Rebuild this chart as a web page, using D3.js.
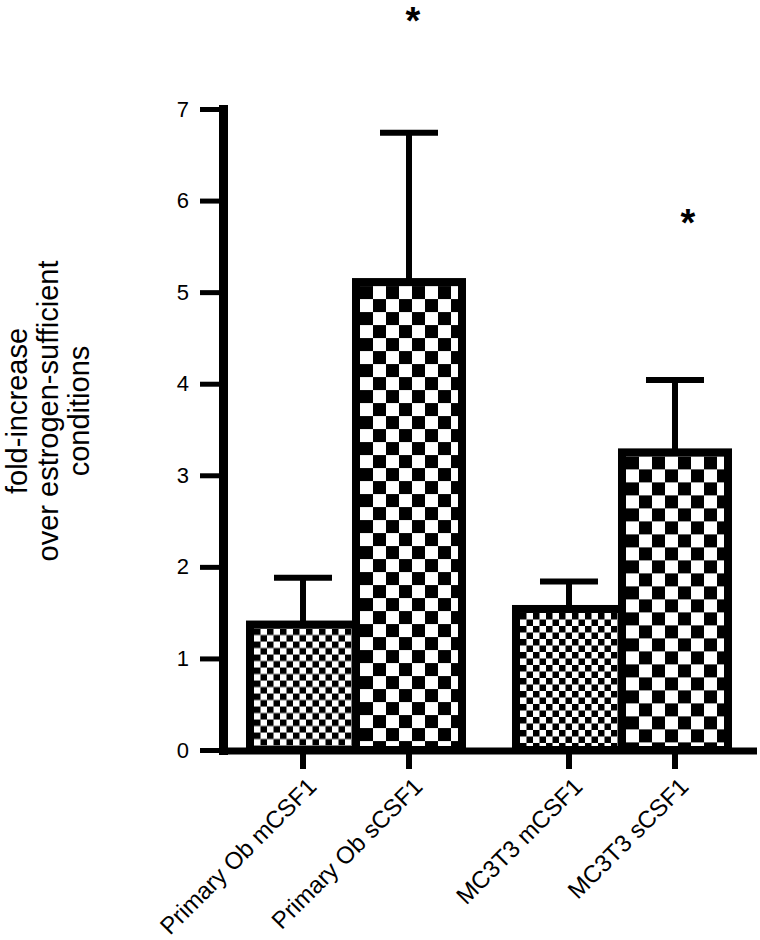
<!DOCTYPE html>
<html>
<head>
<meta charset="utf-8">
<script src="https://cdn.jsdelivr.net/npm/d3@7"></script>
<style>
  html, body { margin: 0; padding: 0; background: #fff; }
  svg { display: block; font-family: "Liberation Sans", Arial, sans-serif; }
</style>
</head>
<body>
<svg id="chart" width="760" height="940"></svg>
<script>
// ---- data ----
const categories = ["Primary Ob mCSF1", "Primary Ob sCSF1", "MC3T3 mCSF1", "MC3T3 sCSF1"];
const groups = ["Primary Ob", "Primary Ob", "MC3T3", "MC3T3"];
const types = ["mCSF1", "sCSF1", "mCSF1", "sCSF1"];
const values = [1.37, 5.11, 1.54, 3.25];
const errors = [0.51, 1.63, 0.30, 0.79];   // upper SEM
const yTicks = [0, 1, 2, 3, 4, 5, 6, 7];
const starCategories = ["Primary Ob sCSF1", "MC3T3 sCSF1"];
const starLevels = [8.05, 5.84];
const yTitle = ["fold-increase", "over estrogen-sufficient", "conditions"];

// ---- layout ----
const svg = d3.select("#chart");
const axisX = 223;
const y = d3.scaleLinear().domain([0, 7]).range([750, 109]);
const groupDomain = Array.from(new Set(groups));
const xGroup = d3.scaleBand().domain(groupDomain).range([250, 728]).paddingInner(0.203).paddingOuter(0);
const xType = d3.scaleBand().domain(["mCSF1", "sCSF1"]).range([0, xGroup.bandwidth()]);
const xLeft = i => xGroup(groups[i]) + xType(types[i]);
const xCenter = i => xLeft(i) + xType.bandwidth() / 2;

// patterns
const defs = svg.append("defs");
const cellSize = { mCSF1: 6.5, sCSF1: 13 };
categories.forEach((c, i) => {
  const s = cellSize[types[i]];
  const p = defs.append("pattern")
    .attr("id", "pat" + i)
    .attr("patternUnits", "userSpaceOnUse")
    .attr("width", 2 * s).attr("height", 2 * s)
    .attr("x", xLeft(i) + 4).attr("y", y(values[i]) + 4);
  p.append("rect").attr("width", 2 * s).attr("height", 2 * s).attr("fill", "#fff");
  p.append("rect").attr("x", 0).attr("y", 0).attr("width", s).attr("height", s).attr("fill", "#000");
  p.append("rect").attr("x", s).attr("y", s).attr("width", s).attr("height", s).attr("fill", "#000");
});

// error bars (drawn first, bars cover the lower part)
const eb = svg.append("g");
categories.forEach((c, i) => {
  const cx = xCenter(i);
  eb.append("line")
    .attr("x1", cx).attr("x2", cx)
    .attr("y1", y(values[i])).attr("y2", y(values[i] + errors[i]))
    .attr("stroke", "#000").attr("stroke-width", 6);
  eb.append("line")
    .attr("x1", cx - 29).attr("x2", cx + 29)
    .attr("y1", y(values[i] + errors[i])).attr("y2", y(values[i] + errors[i]))
    .attr("stroke", "#000").attr("stroke-width", 6);
});

// bars
svg.append("g").selectAll("rect")
  .data(categories)
  .join("rect")
  .attr("x", (d, i) => xLeft(i))
  .attr("width", xType.bandwidth())
  .attr("y", (d, i) => y(values[i]))
  .attr("height", (d, i) => y(0) - y(values[i]))
  .attr("fill", (d, i) => `url(#pat${i})`)
  .attr("stroke", "#000")
  .attr("stroke-width", 8);

// y axis
const yAxis = svg.append("g")
  .attr("transform", `translate(${axisX},0)`)
  .call(d3.axisLeft(y).tickValues(yTicks).tickFormat(d3.format("d")).tickSize(23).tickSizeOuter(0).tickPadding(11));
yAxis.select(".domain").attr("stroke", "#000").attr("stroke-width", 9).attr("stroke-linecap", "square");
yAxis.selectAll(".tick line").attr("stroke", "#000").attr("stroke-width", 5);
yAxis.selectAll(".tick text").attr("font-size", 22).attr("fill", "#000")
  .attr("font-family", "Liberation Sans, Arial, sans-serif");

// x axis
const xAxisG = svg.append("g");
xAxisG.append("line")
  .attr("x1", axisX - 4).attr("x2", 757)
  .attr("y1", y(0) + 1).attr("y2", y(0) + 1)
  .attr("stroke", "#000").attr("stroke-width", 7);
categories.forEach((c, i) => {
  const cx = xCenter(i);
  xAxisG.append("line")
    .attr("x1", cx).attr("x2", cx)
    .attr("y1", y(0) + 3).attr("y2", y(0) + 19)
    .attr("stroke", "#000").attr("stroke-width", 6);
  xAxisG.append("text")
    .attr("transform", `translate(${cx + 15},${y(0) + 38}) rotate(-45)`)
    .attr("text-anchor", "end")
    .attr("font-size", 24)
    .attr("fill", "#000")
    .text(c);
});

// y title
const yt = svg.append("text")
  .attr("transform", "translate(27,411) rotate(-90)")
  .attr("text-anchor", "middle")
  .attr("font-size", 29)
  .attr("fill", "#000");
yTitle.forEach((t, k) => {
  yt.append("tspan").attr("x", 0).attr("dy", k === 0 ? 0 : 31).text(t);
});

// significance stars
const starDx = [4, 13];
starCategories.forEach((c, k) => {
  const i = categories.indexOf(c);
  svg.append("text")
    .attr("x", xCenter(i) + starDx[k])
    .attr("y", y(starLevels[k]) + 21)
    .attr("text-anchor", "middle")
    .attr("font-size", 38)
    .attr("font-weight", "bold")
    .attr("fill", "#000")
    .text("*");
});
</script>
</body>
</html>
